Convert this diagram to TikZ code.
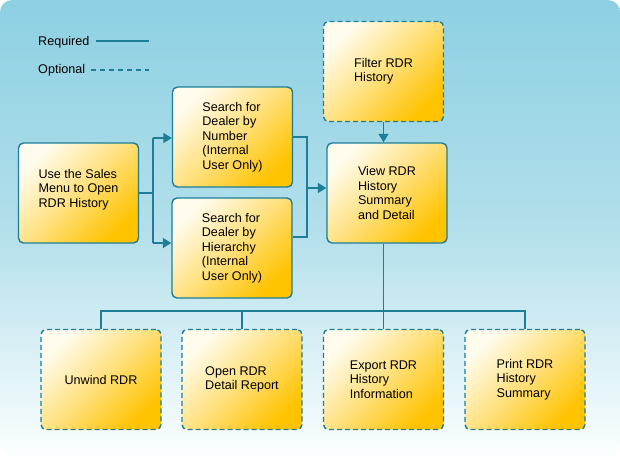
\documentclass[tikz,border=0pt]{standalone}
\usepackage{fontspec}
\setmainfont{Liberation Sans}
\usetikzlibrary{arrows.meta,calc}
\definecolor{ln}{HTML}{1E7E98}
\definecolor{bgtop}{HTML}{8DD0E2}
\definecolor{bgmid}{HTML}{B2DFEB}
\definecolor{bgbot}{HTML}{FBFEFE}
\definecolor{boxA}{HTML}{FFFCEE}
\definecolor{boxB}{HTML}{FFE07C}
\definecolor{boxC}{HTML}{FFC300}
\begin{document}
\begin{tikzpicture}[x=1pt,y=-1pt,
  txt/.style={font=\fontsize{12.6}{14.4}\selectfont, text=black},
  box/.style={txt, draw=ln, line width=1.4pt, rounded corners=5pt,
    minimum width=120pt, minimum height=100pt, inner sep=0pt, align=left,
    top color=boxA, bottom color=boxC, middle color=boxB, shading angle=45},
  opt/.style={box, dash pattern=on 5pt off 3pt},
  conn/.style={draw=ln, line width=1.6pt},
  arr/.style={conn, -{Triangle[length=8.5pt,width=10pt]}},
  optline/.style={conn, dash pattern=on 5pt off 4pt}]
\shade[top color=bgtop, bottom color=bgbot, middle color=bgmid, rounded corners=12pt]
  (0,0) rectangle (620,455);
\useasboundingbox (0,0) rectangle (620,455);

% legend
\node[txt, anchor=west, inner sep=0pt] (lreq) at (38,42) {Required};
\node[txt, anchor=west, inner sep=0pt] (lopt) at (38,70) {Optional};
\coordinate (lreqend) at (149,41);
\coordinate (loptend) at (149,70);
\draw[conn] ($(lreq.east)+(6,-1)$) -- (lreqend);
\draw[optline] ($(lopt.east)+(6,0)$) -- (loptend);

% nodes
\node[box] (sales) at (78.5,193) {Use the Sales\\Menu to Open\\RDR History\\[-5pt]};
\node[box] (num) at (232.5,137) {Search for\\Dealer by\\Number\\(Internal\\User Only)};
\node[box] (hier) at (232,248) {Search for\\Dealer by\\Hierarchy\\(Internal\\User Only)};
\node[opt] (filter) at (383.5,71.5) {Filter RDR\\History};
\node[box] (view) at (387,193) {View RDR\\History\\Summary\\and Detail};
\node[opt] (unwind) at (101,379.5) {Unwind RDR};
\node[opt] (open) at (242,379.5) {Open RDR\\Detail Report};
\node[opt] (export) at (383.5,379.5) {Export RDR\\History\\Information};
\node[opt] (print) at (525,379.5) {Print RDR\\History\\Summary};

% left fork
\coordinate (j1) at (153,193);
\coordinate (j1a) at (153,138);
\coordinate (j1b) at (153,243);
\draw[conn] (sales.east |- j1) -- (j1);
\draw[conn] (j1a) -- (j1b);
\draw[arr] (j1a) -- (j1a -| num.west);
\draw[arr] (j1b) -- (j1b -| hier.west);

% right join
\coordinate (j2a) at (307,137);
\coordinate (j2b) at (307,237);
\coordinate (j2) at (307,188);
\draw[conn] (j2a -| num.east) -- (j2a) -- (j2b) -- (j2b -| hier.east);
\draw[arr] (j2) -- (j2 -| view.west);

% filter to view
\draw[arr] (filter.south) -- (filter.south |- view.north);

% bus to bottom row
\coordinate (bus) at (383.5,311);
\draw[conn] (bus |- view.south) -- (export.north);
\draw[conn] (unwind.north) -- (unwind.north |- bus) -- (print.north |- bus) -- (print.north);
\draw[conn] (open.north) -- (open.north |- bus);
\end{tikzpicture}
\end{document}
